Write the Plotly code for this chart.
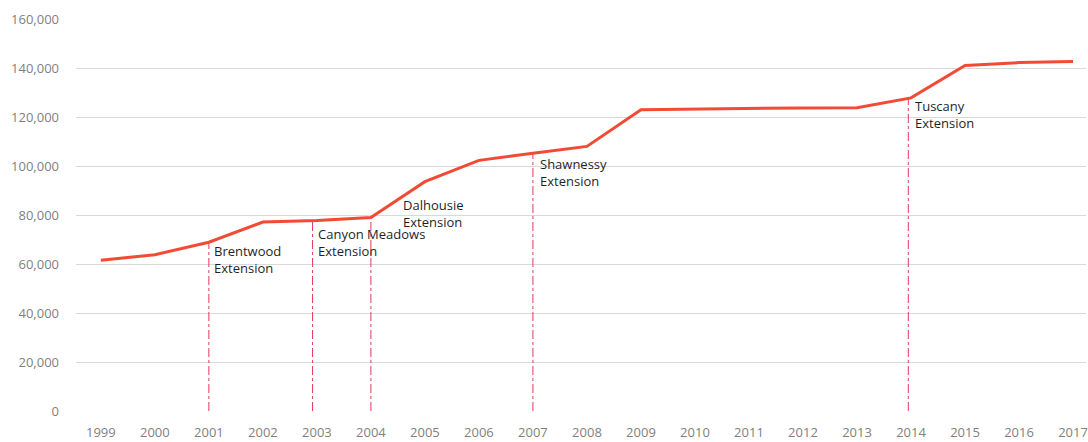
import numpy as np
import plotly.graph_objects as go

years = list(range(1999, 2018))
ridership = [61500, 63800, 68900, 77100, 77800, 79000, 93600, 102300, 105200, 108000,
             123000, 123300, 123500, 123700, 123800, 127800, 141000, 142200, 142700]

ext_years = [2001, 2002.92, 2004, 2007, 2013.95]
ext_labels = ["Brentwood<br>Extension", "Canyon Meadows<br>Extension", "Dalhousie<br>Extension",
              "Shawnessy<br>Extension", "Tuscany<br>Extension"]
# label anchor positions (x in years, y in riders) for the annotation text
label_x = [2001.06, 2002.98, 2004.56, 2007.1, 2014.04]
label_y = [69800, 76600, 88600, 105300, 128800]

y_ticks = [0, 20000, 40000, 60000, 80000, 100000, 120000, 140000, 160000]

FONT = "Open Sans"
fig = go.Figure()

ext_tops = np.interp(ext_years, years, ridership)
for xv, top in zip(ext_years, ext_tops):
    fig.add_trace(go.Scatter(x=[xv, xv], y=[0, top], mode="lines",
                             line=dict(color="#e8365d", width=1, dash="dashdot"),
                             hoverinfo="skip", showlegend=False))

fig.add_trace(go.Scatter(x=years, y=ridership, mode="lines",
                         line=dict(color="#f24b35", width=3), showlegend=False))

for lx, ly, t in zip(label_x, label_y, ext_labels):
    fig.add_annotation(x=lx, y=ly, text=t, showarrow=False, xanchor="left", yanchor="top",
                       align="left", font=dict(family=FONT, size=13, color="#1f1f1f"))

fig.update_layout(
    width=1088, height=442,
    margin=dict(l=76, r=0, t=19, b=31),
    plot_bgcolor="white", paper_bgcolor="white",
    font=dict(family=FONT, size=13, color="#7f7f7f"),
    xaxis=dict(range=[1998.54, 2017.24], tickvals=years, ticktext=[str(y) for y in years],
               showgrid=False, zeroline=False, showline=False, ticks="",
               ticklabelstandoff=12, ticklabeloverflow="allow",
               tickfont=dict(family=FONT, size=13, color="#7f7f7f")),
    yaxis=dict(range=[0, 160000], tickvals=y_ticks,
               ticktext=[f"{v:,}" for v in y_ticks],
               showgrid=True, gridcolor="#d9d9d9", gridwidth=1, zeroline=False,
               showline=False, ticks="", ticklabelstandoff=16,
               tickfont=dict(family=FONT, size=13, color="#7f7f7f")),
)

fig.write_html("out.html")
